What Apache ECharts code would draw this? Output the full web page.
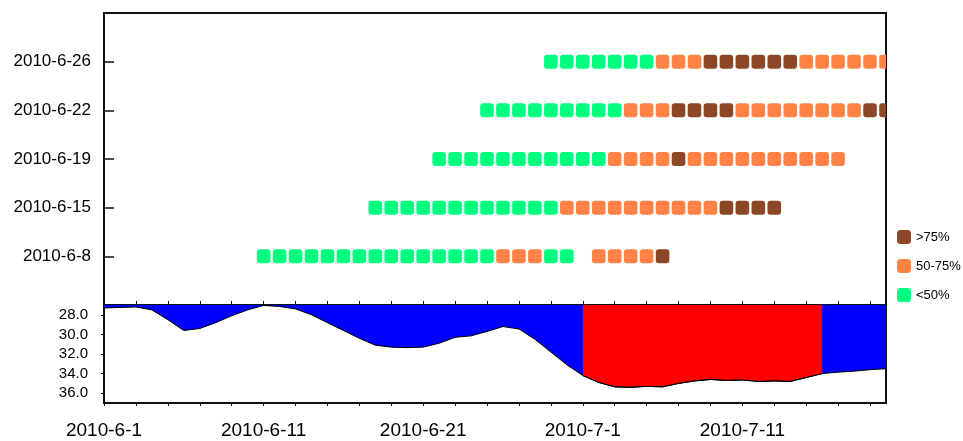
<!DOCTYPE html>
<html>
<head>
<meta charset="utf-8">
<script src="https://cdn.jsdelivr.net/npm/echarts@6/dist/echarts.min.js"></script>
<style>
html,body{margin:0;padding:0;background:#fff;}
#main{width:963px;height:441px;}
</style>
</head>
<body>
<div id="main"></div>
<script>
// day 0 of both x axes
var originDate = '2010-6-1';
var lastDay = 49;

// forecast rows (upper panel)
var rowLabels = ['2010-6-8', '2010-6-15', '2010-6-19', '2010-6-22', '2010-6-26'];
var rowStart = ['2010-6-11', '2010-6-18', '2010-6-22', '2010-6-25', '2010-6-29'];
// 0 = <50%, 1 = 50-75%, 2 = >75%, null = no value
var levels608 = [0,0,0,0,0,0,0,0,0,0,0,0,0,0,0,1,1,1,0,0,null,1,1,1,1,2];
var levels615 = [0,0,0,0,0,0,0,0,0,0,0,0,1,1,1,1,1,1,1,1,1,1,2,2,2,2];
var levels619 = [0,0,0,0,0,0,0,0,0,0,0,1,1,1,1,2,1,1,1,1,1,1,1,1,1,1];
var levels622 = [0,0,0,0,0,0,0,0,0,1,1,1,2,2,2,2,1,1,1,1,1,1,1,1,2,2];
var levels626 = [0,0,0,0,0,0,0,1,1,1,2,2,2,2,2,2,1,1,1,1,1,1];
var levelNames = ['<50%', '50-75%', '>75%'];
var levelColors = ['#00FF7F', '#FF8247', '#8B4726'];

// lower panel: daily level from 2010-6-1
var waterLevel = [
  27.3, 27.25, 27.2, 27.5, 28.5, 29.6, 29.4, 28.8, 28.1, 27.5,
  27.05, 27.15, 27.4, 28.0, 28.8, 29.6, 30.4, 31.1, 31.3, 31.35,
  31.3, 30.9, 30.3, 30.15, 29.7, 29.2, 29.45, 30.5, 31.8, 33.1,
  34.2, 34.9, 35.35, 35.4, 35.3, 35.35, 35.0, 34.75, 34.6, 34.7,
  34.65, 34.8, 34.75, 34.8, 34.4, 34.0, 33.85, 33.75, 33.6, 33.5
];
var redStart = '2010-7-1';
var redEnd = '2010-7-16';

var xTickLabels = ['2010-6-1', '2010-6-11', '2010-6-21', '2010-7-1', '2010-7-11'];
var levelTicks = [28, 30, 32, 34, 36];

function toDate(s) {
    var p = s.split('-');
    return new Date(+p[0], +p[1] - 1, +p[2]);
}
function dayOf(s) {
    return Math.round((toDate(s) - toDate(originDate)) / 86400000);
}
function dayLabel(v) {
    var o = toDate(originDate);
    var d = new Date(o.getFullYear(), o.getMonth(), o.getDate() + Math.round(v));
    return d.getFullYear() + '-' + (d.getMonth() + 1) + '-' + d.getDate();
}

var allLevels = [levels608, levels615, levels619, levels622, levels626];
var squares = [[], [], []];
allLevels.forEach(function (lv, r) {
    var s = dayOf(rowStart[r]);
    lv.forEach(function (c, i) {
        if (c === null) return;
        squares[c].push([s + i, r + 1]);
    });
});

var levelData = waterLevel.map(function (v, i) { return [i, v]; });
var redData = levelData.filter(function (p) {
    return p[0] >= dayOf(redStart) && p[0] <= dayOf(redEnd);
});

var twoDayTicks = [];
for (var t = 0; t <= lastDay; t += 2) twoDayTicks.push(t);

var font = 'Liberation Sans, Arial, Helvetica, sans-serif';

function renderSquare(params, api) {
    var p = api.coord([api.value(0), api.value(1)]);
    var w = api.size([1, 0])[0] * 0.85;
    return {
        type: 'rect',
        shape: { x: p[0] - w / 2, y: p[1] - 7, width: w, height: 14, r: 3 },
        style: { fill: api.visual('color') }
    };
}

var chart = echarts.init(document.getElementById('main'));

var series = [];
[2, 1, 0].forEach(function (c) {
    series.push({
        name: levelNames[c],
        type: 'custom',
        xAxisIndex: 0,
        yAxisIndex: 0,
        clip: true,
        itemStyle: { color: levelColors[c] },
        renderItem: renderSquare,
        data: squares[c]
    });
});
series.push({
    type: 'line',
    xAxisIndex: 1,
    yAxisIndex: 1,
    data: levelData,
    showSymbol: false,
    symbol: 'none',
    lineStyle: { color: '#000', width: 1 },
    areaStyle: { color: '#0000FF', opacity: 1, origin: 'start' },
    silent: true
});
series.push({
    type: 'line',
    xAxisIndex: 1,
    yAxisIndex: 1,
    data: redData,
    showSymbol: false,
    symbol: 'none',
    lineStyle: { color: '#000', width: 1 },
    areaStyle: { color: '#FF0000', opacity: 1, origin: 'start' },
    silent: true
});

chart.setOption({
    animation: false,
    backgroundColor: '#fff',
    textStyle: { fontFamily: font },
    legend: {
        data: ['>75%', '50-75%', '<50%'],
        orient: 'vertical',
        left: 897,
        top: 230,
        padding: 0,
        itemWidth: 14,
        itemHeight: 14,
        itemGap: 15,
        icon: 'roundRect',
        selectedMode: false,
        textStyle: { fontSize: 13, color: '#000', fontFamily: font }
    },
    grid: [
        { left: 104, top: 13, width: 782, height: 292, show: true, borderColor: '#111', borderWidth: 2, containLabel: false },
        { left: 104, top: 305, width: 782, height: 98, show: true, borderColor: '#111', borderWidth: 2, containLabel: false }
    ],
    xAxis: [
        {
            gridIndex: 0, type: 'value', min: 0, max: lastDay, interval: 10,
            position: 'bottom',
            axisLine: { show: false },
            axisLabel: { show: false },
            axisTick: { show: true, inside: true, length: 4, customValues: twoDayTicks, lineStyle: { color: '#111', width: 1 } },
            splitLine: { show: false }
        },
        {
            gridIndex: 1, type: 'value', min: 0, max: lastDay, interval: 10,
            axisLine: { show: false },
            axisLabel: {
                customValues: xTickLabels.map(dayOf),
                formatter: dayLabel,
                fontSize: 19, color: '#000', margin: 18, fontFamily: font
            },
            axisTick: { show: true, inside: false, length: 3, customValues: twoDayTicks, lineStyle: { color: '#111', width: 1 } },
            splitLine: { show: false }
        }
    ],
    yAxis: [
        {
            gridIndex: 0, type: 'value', min: 0, max: 6, interval: 1,
            axisLine: { show: false },
            axisLabel: {
                customValues: [1, 2, 3, 4, 5],
                formatter: function (v) { return rowLabels[v - 1] || ''; },
                fontSize: 17, color: '#000', margin: 13, fontFamily: font
            },
            axisTick: { show: true, inside: true, length: 10, customValues: [1, 2, 3, 4, 5], lineStyle: { color: '#111', width: 1.5 } },
            splitLine: { show: false }
        },
        {
            gridIndex: 1, type: 'value', min: 27, max: 37, interval: 1, inverse: true,
            axisLine: { show: false },
            axisLabel: {
                customValues: levelTicks,
                formatter: function (v) { return v.toFixed(1); },
                fontSize: 15, color: '#000', margin: 16, fontFamily: font
            },
            axisTick: { show: true, inside: false, length: 3, customValues: levelTicks, lineStyle: { color: '#111', width: 1 } },
            splitLine: { show: false }
        }
    ],
    series: series
});
</script>
</body>
</html>
